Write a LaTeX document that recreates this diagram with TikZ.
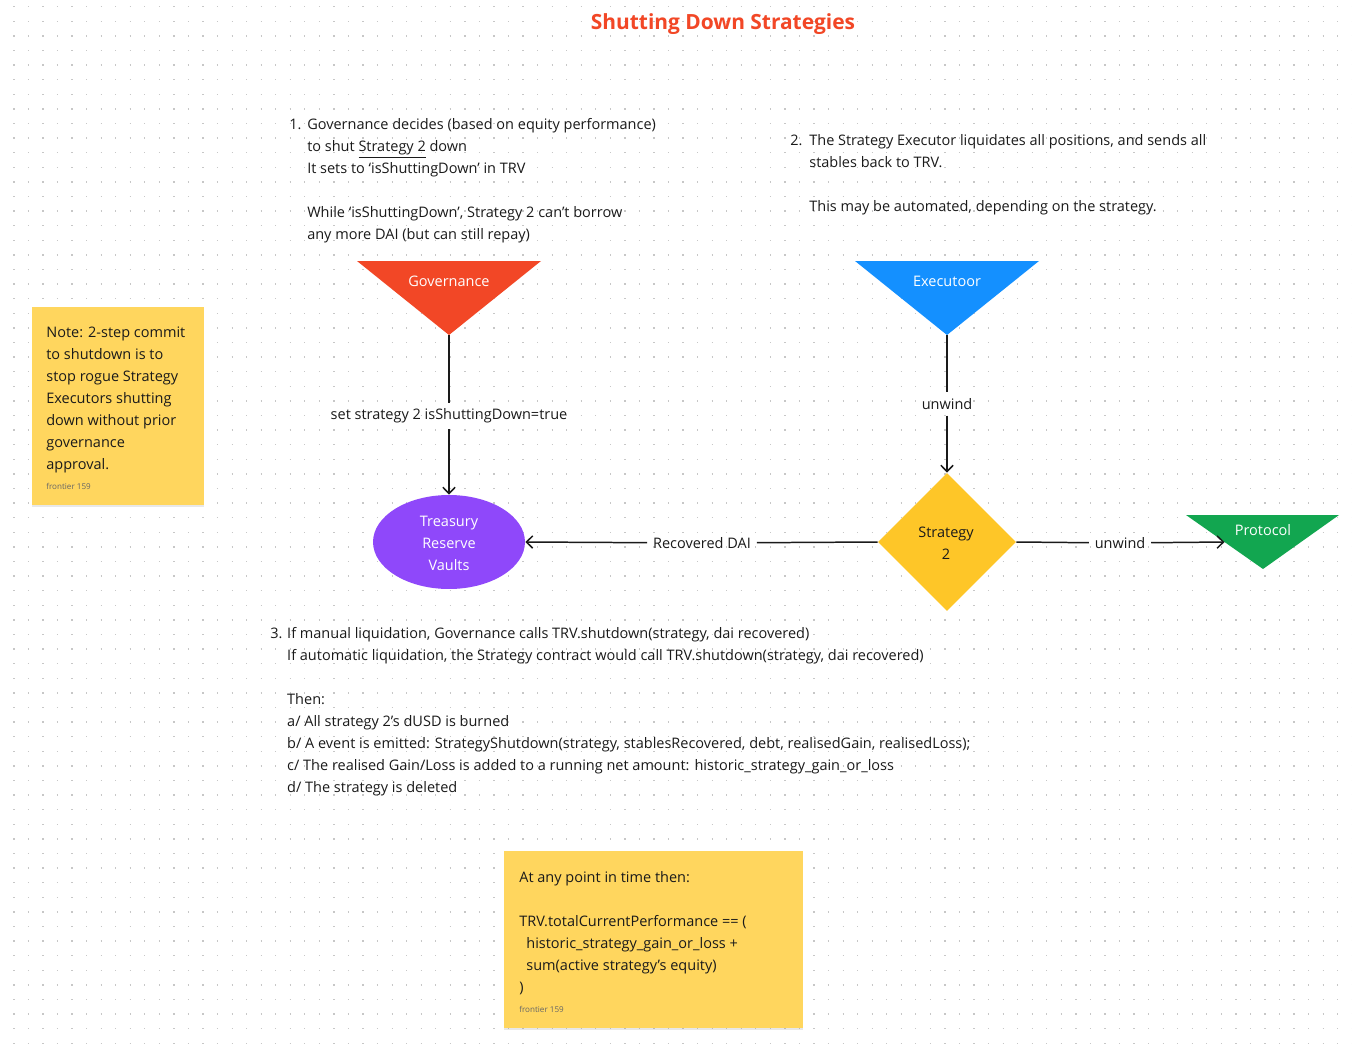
\documentclass[tikz,border=0pt]{standalone}
\usepackage{fontspec}
\setmainfont{Open Sans}
\definecolor{govred}{RGB}{242,71,38}
\definecolor{exeblue}{RGB}{20,144,255}
\definecolor{protgreen}{RGB}{18,166,80}
\definecolor{stratyellow}{RGB}{254,198,40}
\definecolor{trvpurple}{RGB}{143,72,250}
\definecolor{noteyellow}{RGB}{255,214,94}
\definecolor{inkdark}{RGB}{26,26,26}
\usetikzlibrary{arrows.meta,shapes.geometric,shadows}
\newcommand{\bodyfont}{\fontsize{8.25}{12.47}\selectfont}
\newcommand{\tinyfont}{\fontsize{4.6}{6}\selectfont}

\begin{document}
\begin{tikzpicture}[x=0.02cm, y=-0.02cm,
  griddots/.style={black!22, line width=0.7pt, dash pattern=on 0.7pt off 7.58pt},
  txt/.style={inner sep=0, font=\bodyfont, text=inkdark},
  shapelbl/.style={inner sep=0, font=\bodyfont, text=white},
  linklbl/.style={inner sep=3.2pt, font=\bodyfont, text=inkdark},
  notebox/.style={rectangle, fill=noteyellow, inner sep=0,
                  drop shadow={shadow xshift=0pt, shadow yshift=-1.2pt, opacity=0.18}},
  stamp/.style={inner sep=0, font=\tinyfont, text=black!60, anchor=west},
  link/.style={draw=inkdark, line width=0.85pt},
  arr/.style={link, -{Straight Barb[length=3.6pt, width=7pt]}}
]
\useasboundingbox (0,0) rectangle (1352,1051);
\fill[white] (0,0) rectangle (1352,1051);
\foreach \k in {0,...,71}
  \draw[griddots] (13.3,{6.7+\k*14.6}) -- (1352,{6.7+\k*14.6});

% Title
\node[font=\fontsize{11.9}{14}\selectfont\bfseries, text=govred] (title) at (723,24) {Shutting Down Strategies};

% Step texts
\node[txt, anchor=north west] (step1) at (289,114) {\begin{tabular}{@{}p{10.2pt}@{}l@{}}
1.&Governance decides (based on equity performance)\\
&to shut \underline{Strategy 2} down\\
&It sets to ‘isShuttingDown’ in TRV\\
&\\
&While ‘isShuttingDown’, Strategy 2 can’t borrow\\
&any more DAI (but can still repay)
\end{tabular}};
\node[txt, anchor=north west] (step2) at (790,130) {\begin{tabular}{@{}p{10.8pt}@{}l@{}}
2.&The Strategy Executor liquidates all positions, and sends all\\
&stables back to TRV.\\
&\\
&This may be automated, depending on the strategy.
\end{tabular}};
\node[txt, anchor=north west] (step3) at (270,623) {\begin{tabular}{@{}p{9.6pt}@{}l@{}}
3.&If manual liquidation, Governance calls TRV.shutdown(strategy, dai recovered)\\
&If automatic liquidation, the Strategy contract would call TRV.shutdown(strategy, dai recovered)\\
&\\
&Then:\\
&a/ All strategy 2’s dUSD is burned\\
&b/ A event is emitted: StrategyShutdown(strategy, stablesRecovered, debt, realisedGain, realisedLoss);\\
&c/ The realised Gain/Loss is added to a running net amount: historic\_strategy\_gain\_or\_loss\\
&d/ The strategy is deleted
\end{tabular}};

% Sticky notes
\node[notebox, minimum width=3.44cm, minimum height=3.96cm] (govnote) at (118,406) {};
\node[txt, anchor=north west] (govnotetxt) at (46,322) {\begin{tabular}{@{}l@{}}
Note: 2-step commit\\
to shutdown is to\\
stop rogue Strategy\\
Executors shutting\\
down without prior\\
governance\\
approval.
\end{tabular}};
\node[stamp] (govnotestamp) at (46,486) {frontier 159};

\node[notebox, minimum width=5.98cm, minimum height=3.54cm] (trvnote) at (653.5,939.5) {};
\node[txt, anchor=north west] (trvnotetxt) at (519,867) {\begin{tabular}{@{}l@{}}
At any point in time then:\\
\\
TRV.totalCurrentPerformance == (\\
\hspace{4pt}historic\_strategy\_gain\_or\_loss +\\
\hspace{4pt}sum(active strategy’s equity)\\
)
\end{tabular}};
\node[stamp] (trvnotestamp) at (519,1009) {frontier 159};

% Actors
\fill[govred] (357,261) -- (541,261) -- (449,335) -- cycle;
\coordinate (govtip) at (449,335);
\node[shapelbl] (gov) at (449,281) {Governance};

\fill[exeblue] (855,261) -- (1039,261) -- (947,335) -- cycle;
\coordinate (exetip) at (947,335);
\node[shapelbl] (exe) at (947,281) {Executoor};

\fill[protgreen] (1186,515) -- (1339,515) -- (1263,569) -- cycle;
\coordinate (protedge) at (1224.5,542);
\node[shapelbl] (prot) at (1263,530) {Protocol};

\node[ellipse, fill=trvpurple, minimum width=3.04cm, minimum height=1.88cm, inner sep=0,
      font=\bodyfont, text=white, align=center] (trv) at (449,542) {};
\node[shapelbl, align=center] (trvlbl) at (449,543) {Treasury\\Reserve\\Vaults};
\node[diamond, fill=stratyellow, minimum width=2.76cm, minimum height=2.76cm, inner sep=0] (strat) at (947,542) {};
\node[txt, align=center] (stratlbl) at (946,543) {Strategy\\2};

% Arrows
\node[linklbl] (setlbl) at (449,416) {set strategy 2 isShuttingDown=true};
\draw[link] (govtip) -- (setlbl);
\draw[arr] (setlbl) -- (trv);

\node[linklbl] (unwlbl) at (947,404) {unwind};
\draw[link] (exetip) -- (unwlbl);
\draw[arr] (unwlbl) -- (strat);

\node[linklbl] (dailbl) at (702,543) {Recovered DAI};
\draw[link] (strat.west) -- (dailbl);
\draw[arr] (dailbl) -- (trv.east);

\node[linklbl] (unw2lbl) at (1120,543) {unwind};
\draw[link] (strat.east) -- (unw2lbl);
\draw[arr] (unw2lbl) -- (protedge);
\end{tikzpicture}
\end{document}
